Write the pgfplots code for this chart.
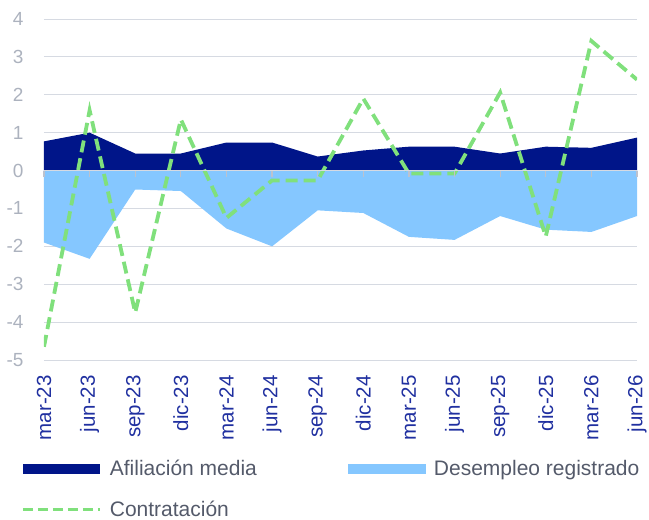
\documentclass[border=0pt]{standalone}
\usepackage{fontspec}
\setmainfont{Liberation Sans}
\usepackage{pgfplots}
\pgfplotsset{compat=1.18}

\definecolor{navy}{RGB}{0,21,137}
\definecolor{skyb}{RGB}{133,199,255}
\definecolor{lgreen}{RGB}{128,224,124}
\definecolor{gridc}{RGB}{214,218,226}
\definecolor{tickc}{RGB}{188,194,206}
\definecolor{ylab}{RGB}{172,178,190}
\definecolor{xlab}{RGB}{32,48,160}
\definecolor{legtxt}{RGB}{84,90,106}

\begin{document}
\begin{tikzpicture}
% page frame, same margins as the reference around the axis box
\path[use as bounding box] (-44pt,-160pt) rectangle (605pt,360pt);
\begin{axis}[
    name=main,
    width=593pt, height=341pt,
    scale only axis,
    xmin=0, xmax=13,
    ymin=-5, ymax=4,
    ytick={-5,...,4},
    xtick={0,...,13},
    xticklabels={mar-23,jun-23,sep-23,dic-23,mar-24,jun-24,sep-24,dic-24,mar-25,jun-25,sep-25,dic-25,mar-26,jun-26},
    axis line style={draw=none},
    major tick length=0pt,
    ymajorgrids,
    grid style={gridc, line width=1pt},
    /pgf/number format/assume math mode=true,
    yticklabel style={font=\fontsize{19}{22}\selectfont, text=ylab, anchor=east, xshift=-17pt},
    xticklabel style={font=\fontsize{20.5}{24}\selectfont, text=xlab, rotate=90, anchor=east, inner xsep=0pt, inner ysep=0pt, xshift=-15pt},
    legend columns=2,
    legend cell align=left,
    legend style={at={(axis description cs:-0.039,-0.287)}, anchor=north west,
        draw=none, fill=none, inner sep=0pt,
        font=\fontsize{21}{24}\selectfont, text=legtxt,
        row sep=20pt,
        /tikz/column 1/.style={column sep=6pt},
        /tikz/column 2/.style={column sep=89pt},
        /tikz/column 3/.style={column sep=6pt}},
]
\addplot[fill=navy, draw=none,
    legend image code/.code={\fill[navy] (0pt,-5pt) rectangle (77pt,5pt);}]
    coordinates {(0,0.77) (1,1.0) (2,0.45) (3,0.45) (4,0.74) (5,0.74) (6,0.37)
                 (7,0.53) (8,0.63) (9,0.63) (10,0.45) (11,0.63) (12,0.60) (13,0.87)} \closedcycle;
\addlegendentry{Afiliación media}
\addplot[fill=skyb, draw=none,
    legend image code/.code={\fill[skyb] (0pt,-5pt) rectangle (78pt,5pt);}]
    coordinates {(0,-1.90) (1,-2.33) (2,-0.50) (3,-0.54) (4,-1.53) (5,-2.00) (6,-1.05)
                 (7,-1.12) (8,-1.75) (9,-1.83) (10,-1.20) (11,-1.56) (12,-1.62) (13,-1.20)} \closedcycle;
\addlegendentry{Desempleo registrado}
\addplot[lgreen, line width=3.8pt, dash pattern=on 12pt off 6pt,
    legend image code/.code={\draw[lgreen, line width=3.8pt, dash pattern=on 10pt off 5pt] (0pt,0pt) -- (77pt,0pt);}]
    coordinates {(0,-4.65) (1,1.59) (2,-3.75) (3,1.35) (4,-1.25) (5,-0.26) (6,-0.26)
                 (7,1.90) (8,-0.08) (9,-0.08) (10,2.06) (11,-1.74) (12,3.42) (13,2.40)};
\addlegendentry{Contratación}
\end{axis}
\begin{axis}[
    width=593pt, height=341pt,
    scale only axis,
    at={(main.south west)}, anchor=south west,
    xmin=0, xmax=13, ymin=-5, ymax=4,
    axis y line=none,
    axis x line=middle,
    x axis line style={draw=gridc, line width=1pt, -},
    xtick={0,...,13},
    xticklabels={},
    major tick length=6pt,
    xtick align=outside,
    tick style={tickc, line width=1.2pt},
]
\addplot[draw=none] coordinates {(0,0) (13,0)};
\end{axis}
\end{tikzpicture}
\end{document}
